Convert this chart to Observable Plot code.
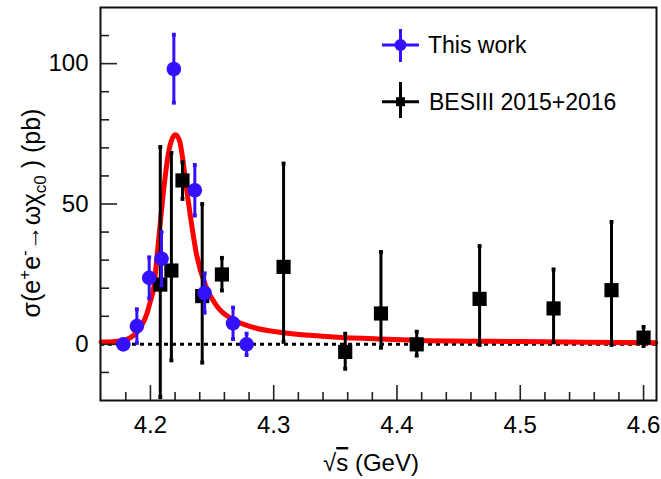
<!DOCTYPE html>
<html>
<head>
<meta charset="utf-8">
<script src="https://cdn.jsdelivr.net/npm/d3@7"></script>
<script src="https://cdn.jsdelivr.net/npm/@observablehq/plot@0.6"></script>
<style>
  body { margin: 0; background: #fff; }
  svg { font-family: "Liberation Sans", Arial, Helvetica, sans-serif; }
</style>
</head>
<body>
<div id="chart"></div>
<script>
// ---- "This work" (blue circles)
const twEnergy = [4.178, 4.189, 4.199, 4.209, 4.219, 4.236, 4.244, 4.267, 4.278];
const twSigma  = [0.0, 6.5, 23.7, 30.5, 98.1, 54.9, 18.3, 7.5, 0.0];
const twErrUp  = [1.5, 6.0, 7.3, 9.5, 12.2, 9.0, 7.0, 5.6, 3.8];
const twErrDn  = [1.5, 6.0, 7.3, 9.5, 12.0, 9.0, 7.0, 5.6, 3.8];

// ---- "BESIII 2015+2016" (black squares)
const besEnergy = [4.208, 4.217, 4.226, 4.242, 4.258, 4.308, 4.358, 4.387, 4.416, 4.467, 4.527, 4.574, 4.600];
const besSigma  = [21.3, 26.3, 58.4, 17.2, 24.9, 27.6, -2.7, 11.0, 0.0, 16.2, 12.8, 19.3, 2.4];
const besErrUp  = [49.0, 41.9, 6.5, 32.8, 5.9, 36.8, 6.5, 21.9, 4.5, 18.8, 13.9, 24.3, 3.8];
const besErrDn  = [40.1, 32.0, 6.6, 23.7, 5.7, 26.7, 6.0, 12.2, 4.0, 16.4, 12.0, 19.5, 3.0];

// ---- fit curve (red)
const fitEnergy = [4.160, 4.1757, 4.1838, 4.1919, 4.1974, 4.2000, 4.2027, 4.2055, 4.2109, 4.2144, 4.2168, 4.2203, 4.2238, 4.2257, 4.2292, 4.2330, 4.2374, 4.2455, 4.2541, 4.2676, 4.2838, 4.3082, 4.3487, 4.392, 4.419, 4.500, 4.610];
const fitSigma  = [0.8, 1.2, 2.4, 5.9, 11.3, 15.4, 20.1, 32.0, 55.7, 67.6, 72.3, 74.7, 72.3, 67.6, 55.7, 43.9, 32.0, 20.1, 13.5, 8.7, 6.0, 4.1, 2.6, 1.8, 1.4, 1.0, 0.6];

// ---- ticks
const xMajorTicks = [4.2, 4.3, 4.4, 4.5, 4.6];
const xMinorTicks = [4.18, 4.22, 4.24, 4.26, 4.28, 4.32, 4.34, 4.36, 4.38, 4.42, 4.44, 4.46, 4.48, 4.52, 4.54, 4.56, 4.58];
const yMajorTicks = [0, 50, 100];
const yMinorTicks = [-10, 10, 20, 30, 40, 60, 70, 80, 90, 110];

const BLUE = "#3311ff";
const W = 661, H = 479, ML = 100, MR = 5, MT = 7, MB = 79;
const PW = W - ML - MR, PH = H - MT - MB;

const tw = twEnergy.map((e, i) => ({E: e, s: twSigma[i], hi: twSigma[i] + twErrUp[i], lo: twSigma[i] - twErrDn[i]}));
const bes = besEnergy.map((e, i) => ({E: e, s: besSigma[i], hi: besSigma[i] + besErrUp[i], lo: besSigma[i] - besErrDn[i]}));
const fit = fitEnergy.map((e, i) => ({E: e, s: fitSigma[i]}));

const plot = Plot.plot({
  width: W, height: H,
  marginLeft: ML, marginRight: MR, marginTop: MT, marginBottom: MB,
  x: {domain: [4.1595, 4.6105]},
  y: {domain: [-20, 120]},
  style: {fontFamily: '"Liberation Sans", Arial, sans-serif', fontSize: "24px", color: "black", background: "white", overflow: "visible"},
  marks: [
    Plot.ruleY([0], {stroke: "black", strokeWidth: 3, strokeDasharray: "4,4"}),
    Plot.line(fit, {x: "E", y: "s", stroke: "#ff0000", strokeWidth: 5, curve: "monotone-x"}),
    Plot.ruleX(bes, {x: "E", y1: "lo", y2: "hi", stroke: "black", strokeWidth: 3}),
    Plot.dot(bes, {x: "E", y: "hi", symbol: "square", r: 2.2, fill: "black"}),
    Plot.dot(bes, {x: "E", y: "lo", symbol: "square", r: 2.2, fill: "black"}),
    Plot.dot(bes, {x: "E", y: "s", symbol: "square", r: 8, fill: "black"}),
    Plot.ruleX(tw, {x: "E", y1: "lo", y2: "hi", stroke: BLUE, strokeWidth: 3}),
    Plot.dot(tw, {x: "E", y: "hi", symbol: "square", r: 2.2, fill: BLUE}),
    Plot.dot(tw, {x: "E", y: "lo", symbol: "square", r: 2.2, fill: BLUE}),
    Plot.dot(tw, {x: "E", y: "s", r: 7.3, fill: BLUE}),
    // inward ticks
    Plot.ruleX(xMajorTicks, {stroke: "#222", strokeWidth: 1.6, insetTop: PH - 15}),
    Plot.ruleX(xMinorTicks, {stroke: "#222", strokeWidth: 1.6, insetTop: PH - 8}),
    Plot.ruleY(yMajorTicks, {stroke: "#222", strokeWidth: 1.6, insetRight: PW - 17}),
    Plot.ruleY(yMinorTicks, {stroke: "#222", strokeWidth: 1.6, insetRight: PW - 9}),
    Plot.frame({stroke: "#111", strokeWidth: 2}),
    Plot.axisX({ticks: xMajorTicks, tickSize: 0, tickPadding: 15, tickFormat: d3.format(".1f"), fontSize: 24, label: null}),
    Plot.axisY({ticks: yMajorTicks, tickSize: 0, tickPadding: 12, fontSize: 24, label: null})
  ]
});

document.getElementById("chart").appendChild(plot);
const svg = d3.select(plot);

// x title
const xt = svg.append("text")
  .attr("x", 371).attr("y", 471)
  .attr("text-anchor", "middle").attr("font-size", 24).attr("fill", "black");
xt.append("tspan").text("√");
xt.append("tspan").attr("text-decoration", "overline").text("s");
xt.append("tspan").text(" (GeV)");

// y title
const yt = svg.append("text")
  .attr("transform", "translate(40,213) rotate(-90)")
  .attr("text-anchor", "middle").attr("font-size", 25).attr("fill", "black");
yt.append("tspan").text("σ(e");
yt.append("tspan").attr("dy", -10).attr("font-size", 17).text("+");
yt.append("tspan").attr("dy", 10).text("e");
yt.append("tspan").attr("dy", -10).attr("font-size", 17).text("-");
yt.append("tspan").attr("dy", 10).text("→ωχ");
yt.append("tspan").attr("dy", 6).attr("font-size", 17).text("c0");
yt.append("tspan").attr("dy", -6).text(" ) (pb)");

// legend
const lg = svg.append("g").attr("text-anchor", "start");
lg.append("line").attr("x1", 382).attr("x2", 419).attr("y1", 45).attr("y2", 45).attr("stroke", BLUE).attr("stroke-width", 3);
lg.append("line").attr("x1", 400.5).attr("x2", 400.5).attr("y1", 29).attr("y2", 62).attr("stroke", BLUE).attr("stroke-width", 3);
lg.append("circle").attr("cx", 400.5).attr("cy", 45).attr("r", 6).attr("fill", BLUE);
lg.append("text").attr("x", 428).attr("y", 53.3).attr("text-anchor", "start").attr("font-size", 23).attr("fill", "black").text("This work");

lg.append("line").attr("x1", 382).attr("x2", 419).attr("y1", 101.7).attr("y2", 101.7).attr("stroke", "black").attr("stroke-width", 3);
lg.append("line").attr("x1", 400.5).attr("x2", 400.5).attr("y1", 82).attr("y2", 118).attr("stroke", "black").attr("stroke-width", 3);
lg.append("rect").attr("x", 396).attr("y", 97.2).attr("width", 9).attr("height", 9).attr("fill", "black");
lg.append("text").attr("x", 429).attr("y", 110).attr("text-anchor", "start").attr("font-size", 23).attr("fill", "black").text("BESIII 2015+2016");
</script>
</body>
</html>
